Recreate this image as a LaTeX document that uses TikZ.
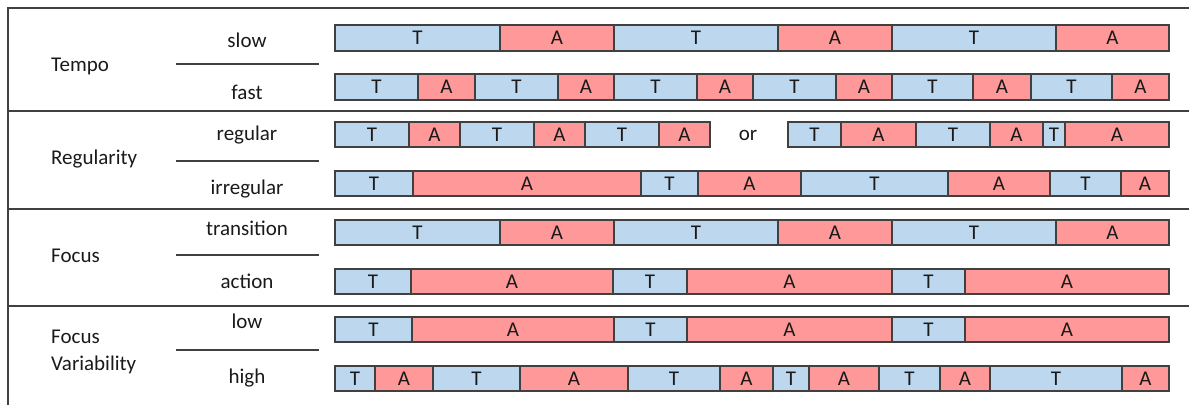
\documentclass[tikz,border=0pt]{standalone}
\usepackage{fontspec}
\setmainfont{Carlito}
\definecolor{tblue}{HTML}{BDD7EE}
\definecolor{ared}{HTML}{FF9999}
\definecolor{lgray}{HTML}{404040}
\definecolor{txt}{HTML}{1A1A1A}
\tikzset{
  seg/.style={draw=lgray, line width=1.3bp, inner sep=0pt, outer sep=0pt, text=txt,
    font=\fontsize{21bp}{24bp}\selectfont},
  segT/.style={seg, fill=tblue},
  segA/.style={seg, fill=ared},
  frame/.style={draw=lgray, line width=1.5bp},
  sub/.style={draw=lgray, line width=1.3bp},
  lab/.style={text=txt, inner sep=0pt, font=\fontsize{21bp}{26bp}\selectfont},
}
\newcommand{\barrow}[4]{% name, y1, y2, list
  \foreach \a/\b/\t [count=\i] in {#4} {
    \node[seg\t, minimum width={(\b-\a)*1bp}, minimum height={(#3-#2)*1bp}]
      (#1\i) at ({(\a+\b)/2},{(#2+#3)/2}) {\t};
  }
}
\begin{document}
\begin{tikzpicture}[x=1bp,y=-1bp]
\useasboundingbox (0,0) rectangle (1189,405);
% frame
\coordinate (tl) at (8,8);
\coordinate (tr) at (1189,8);
\coordinate (bl) at (8,405);
\draw[frame] (tr) -- (tl) -- (bl);
\coordinate (s1l) at (8,111); \coordinate (s1r) at (1189,111);
\coordinate (s2l) at (8,209); \coordinate (s2r) at (1189,209);
\coordinate (s3l) at (8,306); \coordinate (s3r) at (1189,306);
\draw[frame] (s1l) -- (s1r);
\draw[frame] (s2l) -- (s2r);
\draw[frame] (s3l) -- (s3r);
% sub lines
\foreach \y/\n in {64/a,161/b,255/c,350/d} {
  \coordinate (l\n) at (176,\y); \coordinate (r\n) at (319,\y);
  \draw[sub] (l\n) -- (r\n);
}
% category labels
\node[lab, anchor=base west] (tempo) at (51,71) {Tempo};
\node[lab, anchor=base west] (regu) at (51,164) {Regularity};
\node[lab, anchor=base west] (focus) at (51,262) {Focus};
\node[lab, anchor=base west] (fv1) at (51,343) {Focus};
\node[lab, anchor=base west] (fv2) at (51,370) {Variability};
% sub labels
\node[lab, anchor=base] (slow) at (247,47) {slow};
\node[lab, anchor=base] (fast) at (247,99) {fast};
\node[lab, anchor=base] (regular) at (247,140) {regular};
\node[lab, anchor=base] (irregular) at (247,194) {irregular};
\node[lab, anchor=base] (transition) at (247,235) {transition};
\node[lab, anchor=base] (action) at (247,288) {action};
\node[lab, anchor=base] (low) at (247,328) {low};
\node[lab, anchor=base] (high) at (247,383) {high};
% bars
\barrow{slow}{25}{51}{335/500/T,500/614/A,614/778/T,778/892/A,892/1056/T,1056/1169/A}
\barrow{fast}{74}{100}{335/418/T,418/475/A,475/558/T,558/614/A,614/697/T,697/753/A,753/836/T,836/892/A,892/973/T,973/1031/A,1031/1112/T,1112/1169/A}
\barrow{rega}{122}{147}{335/409/T,409/460/A,460/534/T,534/585/A,585/659/T,659/710/A}
\barrow{regb}{122}{147}{788/841/T,841/916/A,916/990/T,990/1043/A,1043/1065/T,1065/1169/A}
\node[lab, anchor=base] (or) at (748,140) {or};
\barrow{irr}{171}{196}{335/413/T,413/641/A,641/698/T,698/801/A,801/948/T,948/1050/A,1050/1121/T,1121/1169/A}
\barrow{tra}{220}{245}{335/500/T,500/614/A,614/778/T,778/892/A,892/1056/T,1056/1169/A}
\barrow{act}{269}{294}{335/411/T,411/613/A,613/687/T,687/892/A,892/965/T,965/1169/A}
\barrow{lowb}{317}{342}{335/412/T,412/614/A,614/687/T,687/892/A,892/965/T,965/1169/A}
\barrow{highb}{366}{391}{335/375/T,375/433/A,433/520/T,520/628/A,628/720/T,720/773/A,773/809/T,809/879/A,879/940/T,940/990/A,990/1122/T,1122/1169/A}
\end{tikzpicture}
\end{document}
